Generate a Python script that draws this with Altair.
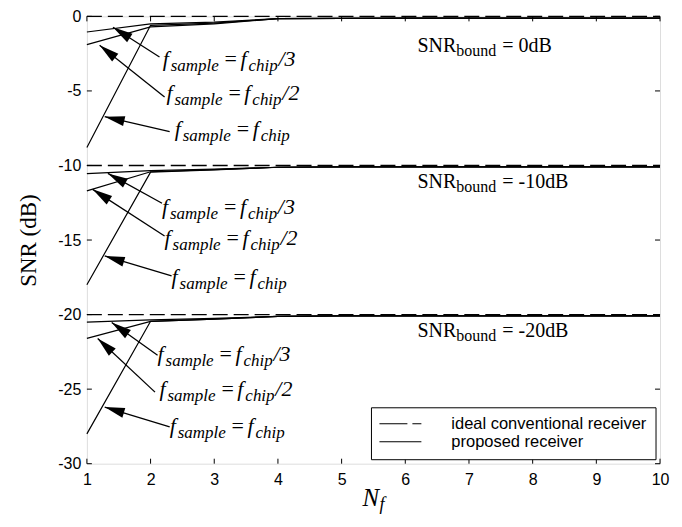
import math
import altair as alt
import pandas as pd

# ---------------- data ----------------
NF = [1, 2, 3, 4, 5, 6, 7, 8, 9, 10]
BOUNDS = [0, -10, -20]
BOUND_TEXT = ["= 0dB", "= -10dB", "= -20dB"]

# proposed receiver, SNR_bound = 0 dB
top_chip = [-8.8, -0.6, -0.45, -0.15, -0.13, -0.12, -0.12, -0.12, -0.12, -0.12]
top_half = [-1.9, -0.7, -0.5, -0.15, -0.13, -0.12, -0.12, -0.12, -0.12, -0.12]
top_third = [-1.05, -0.5, -0.38, -0.15, -0.13, -0.12, -0.12, -0.12, -0.12, -0.12]
# proposed receiver, SNR_bound = -10 dB
mid_chip = [-18.0, -10.45, -10.3, -10.12, -10.1, -10.1, -10.1, -10.1, -10.1, -10.1]
mid_half = [-11.7, -10.42, -10.28, -10.12, -10.1, -10.1, -10.1, -10.1, -10.1, -10.1]
mid_third = [-10.55, -10.35, -10.25, -10.12, -10.1, -10.1, -10.1, -10.1, -10.1, -10.1]
# proposed receiver, SNR_bound = -20 dB
low_chip = [-28.0, -20.45, -20.3, -20.12, -20.08, -20.08, -20.08, -20.08, -20.08, -20.08]
low_half = [-21.6, -20.45, -20.3, -20.12, -20.08, -20.08, -20.08, -20.08, -20.08, -20.08]
low_third = [-20.5, -20.35, -20.25, -20.12, -20.08, -20.08, -20.08, -20.08, -20.08, -20.08]

# annotation anchors (data units)
ANN_NF = [2.19, 2.25, 2.38, 2.18, 2.22, 2.33, 2.11, 2.14, 2.30]
ANN_DB = [-3.33, -5.6, -8.0, -13.27, -15.33, -17.93, -23.13, -25.47, -27.93]
ANN_SUFFIX = ["/3", "/2", "", "/3", "/2", "", "/3", "/2", ""]
TIP_NF = [1.41, 1.20, 1.28, 1.33, 1.09, 1.28, 1.39, 1.17, 1.28]
TIP_DB = [-0.73, -1.93, -6.73, -10.53, -11.6, -16.07, -20.53, -21.6, -26.2]
TAIL_NF = [2.14, 2.22, 2.30, 2.18, 2.22, 2.33, 2.11, 2.07, 2.30]
TAIL_DB = [-2.73, -5.4, -7.73, -12.53, -14.73, -17.4, -22.73, -25.2, -27.53]

BL_NF = [6.19, 6.19, 6.19]
BL_DB = [-2.4, -11.5, -21.5]

X_TICKS = NF
Y_TICKS = [0, -5, -10, -15, -20, -25, -30]

# ---------------- layout ----------------
W, H = 574, 448
PX_X = W / 9.0
PX_Y = H / 30.0

xs = alt.Scale(domain=[1, 10], nice=False, zero=False)
ys = alt.Scale(domain=[-30, 0], nice=False, zero=False)

rows = []
for name, vals in [("top_chip", top_chip), ("top_half", top_half), ("top_third", top_third),
                   ("mid_chip", mid_chip), ("mid_half", mid_half), ("mid_third", mid_third),
                   ("low_chip", low_chip), ("low_half", low_half), ("low_third", low_third)]:
    for n, v in zip(NF, vals):
        rows.append({"Nf": n, "dB": v, "s": name})
prop = pd.DataFrame(rows)
ideal = pd.DataFrame([{"Nf": n, "dB": b, "s": f"g{b}"} for b in BOUNDS for n in NF])

ann = pd.DataFrame({"Nf": ANN_NF, "dB": ANN_DB, "suffix": ANN_SUFFIX})
arrows = pd.DataFrame({"x": TAIL_NF, "y": TAIL_DB, "x2": TIP_NF, "y2": TIP_DB})
arrows["angle"] = [
    (math.degrees(math.atan2((a - c) * PX_X, (b - d) * PX_Y)) + 360) % 360
    for a, b, c, d in zip(TIP_NF, TIP_DB, TAIL_NF, TAIL_DB)
]
bl = pd.DataFrame({"Nf": BL_NF, "dB": BL_DB, "t": BOUND_TEXT})

SERIF = "Liberation Serif"
SANS = "Liberation Sans"

X = alt.X("Nf:Q", scale=xs, axis=alt.Axis(values=X_TICKS, ticks=False, domain=False, grid=False,
                                          labelFont=SANS, labelFontSize=16, labelColor="black",
                                          labelPadding=8, title=None, labelFlush=False,
                                          labelExpr="'' + datum.value"))
Y = alt.Y("dB:Q", scale=ys, axis=alt.Axis(values=Y_TICKS, ticks=False, domain=False, grid=False,
                                          labelFont=SANS, labelFontSize=16, labelColor="black",
                                          labelPadding=6, title="SNR (dB)", titleFont=SERIF,
                                          titleFontSize=23, titleFontWeight="normal",
                                          titleColor="black", titleAngle=270, titleX=-58,
                                          titleY=H / 2, titleAlign="center",
                                          titleBaseline="middle", labelFlush=False,
                                          labelExpr="'' + datum.value"))

ideal_layer = alt.Chart(ideal).mark_line(color="black", strokeWidth=1.3, strokeDash=[15, 6]).encode(
    x=X, y=Y, detail="s:N")
prop_layer = alt.Chart(prop).mark_line(color="black", strokeWidth=1.2).encode(
    x=alt.X("Nf:Q", scale=xs), y=alt.Y("dB:Q", scale=ys), detail="s:N")

shaft = alt.Chart(arrows).mark_rule(color="black", strokeWidth=1.3).encode(
    x=alt.X("x:Q", scale=xs), y=alt.Y("y:Q", scale=ys), x2="x2:Q", y2="y2:Q")
head = alt.Chart(arrows).mark_point(shape="M0,0L-0.5,2L0.5,2Z", size=400, filled=True,
                                    color="black", opacity=1, strokeWidth=0).encode(
    x=alt.X("x2:Q", scale=xs), y=alt.Y("y2:Q", scale=ys), angle=alt.Angle("angle:Q", scale=None))


def piece(df, text, dx, dy, size, italic=True, field=False):
    m = alt.Chart(df).mark_text(align="left", baseline="alphabetic", dx=dx, dy=dy,
                                font=SERIF, fontSize=size,
                                fontStyle="italic" if italic else "normal", color="black")
    enc = dict(x=alt.X("Nf:Q", scale=xs), y=alt.Y("dB:Q", scale=ys))
    if field:
        enc["text"] = alt.Text(text + ":N")
    else:
        enc["text"] = alt.value(text)
    return m.encode(**enc)


labels = [
    piece(ann, "f", 0, 0, 22),
    piece(ann, "sample", 8, 5, 17),
    piece(ann, "=", 62, 0, 22, italic=False),
    piece(ann, "f", 78, 0, 22),
    piece(ann, "chip", 86, 5, 17),
    piece(ann, "suffix", 116, 0, 22, field=True),
]
bound_labels = [
    piece(bl, "SNR", 0, 0, 20, italic=False),
    piece(bl, "bound", 39, 4, 16, italic=False),
    piece(bl, "t", 85, 0, 20, italic=False, field=True),
]

tick_x = pd.DataFrame({"Nf": X_TICKS})
tick_y = pd.DataFrame({"dB": Y_TICKS})
tk = dict(color="black", strokeWidth=1)
ticks = [
    alt.Chart(tick_x).mark_rule(**tk).encode(x=alt.X("Nf:Q", scale=xs), y=alt.value(H), y2=alt.value(H - 5)),
    alt.Chart(tick_x).mark_rule(**tk).encode(x=alt.X("Nf:Q", scale=xs), y=alt.value(0), y2=alt.value(5)),
    alt.Chart(tick_y).mark_rule(**tk).encode(y=alt.Y("dB:Q", scale=ys), x=alt.value(0), x2=alt.value(5)),
    alt.Chart(tick_y).mark_rule(**tk).encode(y=alt.Y("dB:Q", scale=ys), x=alt.value(W), x2=alt.value(W - 5)),
]

# legend box
LX0, LX1, LY0, LY1 = 285, 570, 392, 444
one = pd.DataFrame({"a": [0]})
leg_box = alt.Chart(one).mark_rect(fill="white", stroke="black", strokeWidth=1).encode(
    x=alt.value(LX0), x2=alt.value(LX1), y=alt.value(LY0), y2=alt.value(LY1))
leg_dash = alt.Chart(one).mark_rule(color="black", strokeWidth=1.2, strokeDash=[28, 5]).encode(
    x=alt.value(LX0 + 8), x2=alt.value(LX0 + 50), y=alt.value(LY0 + 16))
leg_solid = alt.Chart(one).mark_rule(color="black", strokeWidth=1.2).encode(
    x=alt.value(LX0 + 8), x2=alt.value(LX0 + 50), y=alt.value(LY0 + 34))
leg_t1 = alt.Chart(one).mark_text(align="left", baseline="middle", font=SANS, fontSize=16.5,
                                  color="black").encode(
    x=alt.value(LX0 + 80), y=alt.value(LY0 + 16), text=alt.value("ideal conventional receiver"))
leg_t2 = alt.Chart(one).mark_text(align="left", baseline="middle", font=SANS, fontSize=16.5,
                                  color="black").encode(
    x=alt.value(LX0 + 80), y=alt.value(LY0 + 34), text=alt.value("proposed receiver"))

xt1 = alt.Chart(one).mark_text(align="left", baseline="alphabetic", font=SERIF, fontSize=25,
                               fontStyle="italic", color="black").encode(
    x=alt.value(276), y=alt.value(490), text=alt.value("N"))
xt2 = alt.Chart(one).mark_text(align="left", baseline="alphabetic", font=SERIF, fontSize=18,
                               fontStyle="italic", color="black").encode(
    x=alt.value(293), y=alt.value(494), text=alt.value("f"))

chart = alt.layer(
    ideal_layer, prop_layer, *ticks, shaft, head, *labels, *bound_labels,
    leg_box, leg_dash, leg_solid, leg_t1, leg_t2, xt1, xt2,
).properties(
    width=W, height=H,
    autosize=alt.AutoSizeParams(type="none"),
    padding={"left": 79, "top": 8, "right": 14, "bottom": 55},
).configure_view(stroke="black", strokeWidth=1.5).configure(background="white")

chart.save("out.html", embed_options={"renderer": "svg", "actions": False})
